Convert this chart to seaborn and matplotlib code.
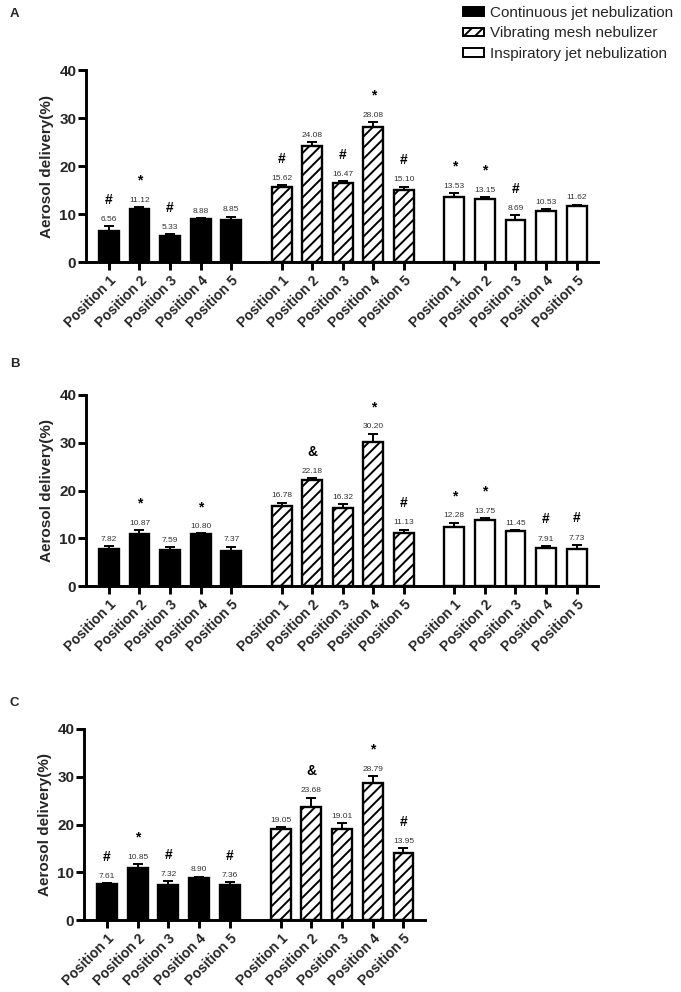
import matplotlib
matplotlib.use("Agg")
import matplotlib.pyplot as plt
from matplotlib.patches import Patch
import seaborn as sns
import numpy as np

sns.set_theme(style="ticks")
plt.rcParams['font.family'] = ['Liberation Sans', 'DejaVu Sans']
plt.rcParams['hatch.linewidth'] = 1.4
plt.rcParams['hatch.color'] = 'black'

positions = ["Position 1", "Position 2", "Position 3", "Position 4", "Position 5"]
devices = ["Continuous jet nebulization", "Vibrating mesh nebulizer",
           "Inspiratory jet nebulization"]

# panel A
a_means = [[6.56, 11.12, 5.33, 8.88, 8.85],
           [15.62, 24.08, 16.47, 28.08, 15.10],
           [13.53, 13.15, 8.69, 10.53, 11.62]]
a_err = [[0.85, 0.35, 0.5, 0.35, 0.6],
         [0.4, 0.9, 0.35, 1.1, 0.6],
         [0.8, 0.4, 1.0, 0.55, 0.35]]
a_marks = [["#", "*", "#", "", ""],
           ["#", "", "#", "*", "#"],
           ["*", "*", "#", "", ""]]

# panel B
b_means = [[7.82, 10.87, 7.59, 10.80, 7.37],
           [16.78, 22.18, 16.32, 30.20, 11.13],
           [12.28, 13.75, 11.45, 7.91, 7.73]]
b_err = [[0.6, 0.9, 0.55, 0.2, 0.9],
         [0.7, 0.35, 0.75, 1.7, 0.7],
         [1.0, 0.5, 0.3, 0.5, 0.9]]
b_marks = [["", "*", "", "*", ""],
           ["", "&", "", "*", "#"],
           ["*", "*", "", "#", "#"]]

# panel C (no inspiratory group)
c_means = [[7.61, 10.85, 7.32, 8.90, 7.36],
           [19.05, 23.68, 19.01, 28.79, 13.95]]
c_err = [[0.15, 0.9, 0.8, 0.2, 0.5],
         [0.4, 1.95, 1.3, 1.3, 1.05]]
c_marks = [["#", "*", "#", "", "#"],
           ["", "&", "", "*", "#"]]

face_colors = ["black", "white", "white"]
hatches = ["", "///", ""]
group_step = 5.65

W, H = 681, 992
fig = plt.figure(figsize=(W / 100, H / 100), dpi=100)


def panel_axes(left, right, top, bottom):
    return fig.add_axes([left / W, 1 - bottom / H, (right - left) / W, (bottom - top) / H])


def draw_panel(ax, means, errs, marks):
    xticks = []
    for g, (vals, err, mk) in enumerate(zip(means, errs, marks)):
        xs = g * group_step + np.arange(len(vals))
        sns.barplot(x=xs, y=vals, native_scale=True, color=face_colors[g],
                    saturation=1, width=0.65, edgecolor="black", linewidth=1.7,
                    hatch=hatches[g], ax=ax, zorder=2)
        ax.errorbar(xs, vals, yerr=[np.zeros(len(vals)), err], fmt="none",
                    ecolor="black", elinewidth=1.4, capsize=3.5, capthick=1.4,
                    zorder=1)
        for x, v, e, m in zip(xs, vals, err, mk):
            ax.annotate(f"{v:.2f}", (x, v + e), xytext=(0, 2.3),
                        textcoords="offset points", ha="center", va="bottom",
                        fontsize=6, color="#333333")
            if m:
                ax.annotate(m, (x, v + e), xytext=(0, 14),
                            textcoords="offset points", ha="center", va="bottom",
                            fontsize=10, fontweight="bold", color="black")
        xticks.extend(xs)

    ax.set_xlim(-0.75, xticks[-1] + 0.7)
    ax.set_ylim(0, 40)
    ax.set_yticks([0, 10, 20, 30, 40])
    ax.set_xticks(xticks)
    ax.set_xticklabels(positions * len(means), rotation=45, ha="right",
                       rotation_mode="anchor", fontsize=10, fontweight="bold")
    ax.set_yticklabels(["0", "10", "20", "30", "40"], fontsize=11,
                       fontweight="bold")
    ax.set_xlabel("")
    ax.set_ylabel("Aerosol delivery(%)", fontsize=11, fontweight="bold",
                  labelpad=4)
    sns.despine(ax=ax)
    for side in ["left", "bottom"]:
        ax.spines[side].set_linewidth(2.1)
        ax.spines[side].set_color("black")
    ax.tick_params(axis="both", direction="out", length=5.5, width=2.1,
                   color="black", pad=1.5)
    ax.tick_params(axis="x", pad=3)
    ax.set_facecolor("white")


ax_a = panel_axes(86, 598, 70, 262)
draw_panel(ax_a, a_means, a_err, a_marks)
ax_b = panel_axes(86, 598, 395, 586)
draw_panel(ax_b, b_means, b_err, b_marks)
ax_c = panel_axes(84, 425, 729, 920)
draw_panel(ax_c, c_means, c_err, c_marks)

fig.text(10 / W, 1 - 14 / H, "A", fontsize=9.5, fontweight="bold", va="center")
fig.text(10 / W, 1 - 364 / H, "B", fontsize=9.5, fontweight="bold", va="center")
fig.text(10 / W, 1 - 703 / H, "C", fontsize=9.5, fontweight="bold", va="center")

handles = [Patch(facecolor=face_colors[i], edgecolor="black", hatch=hatches[i],
                 linewidth=1.4) for i in range(3)]
fig.legend(handles, devices, loc="upper left", bbox_to_anchor=(463 / W, 1 - 6 / H),
           frameon=False, fontsize=11, handlelength=1.4, handleheight=0.5,
           handletextpad=0.35, labelspacing=0.42, borderpad=0, borderaxespad=0)

fig.savefig("out.png", dpi=100, facecolor="white")
plt.close(fig)
